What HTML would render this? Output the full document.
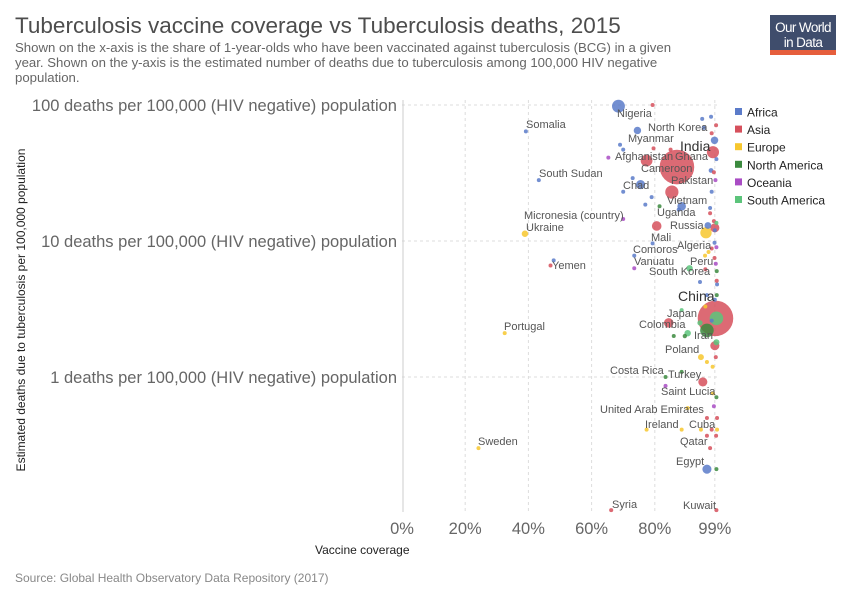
<!DOCTYPE html>
<html><head><meta charset="utf-8">
<style>
body{margin:0;background:#fff;font-family:"Liberation Sans",sans-serif;}
svg text{font-family:"Liberation Sans",sans-serif;}
</style></head>
<body>
<svg id="chart" width="850" height="600" xmlns="http://www.w3.org/2000/svg">
<text x="15" y="33" font-size="22.5" fill="#4d4d4d">Tuberculosis vaccine coverage vs Tuberculosis deaths, 2015</text>
<g font-size="13.2" fill="#666">
<text x="15" y="52">Shown on the x-axis is the share of 1-year-olds who have been vaccinated against tuberculosis (BCG) in a given</text>
<text x="15" y="67">year. Shown on the y-axis is the estimated number of deaths due to tuberculosis among 100,000 HIV negative</text>
<text x="15" y="82">population.</text>
</g>
<g>
<rect x="770" y="15" width="66" height="36" fill="#3f4d6c"/>
<rect x="770" y="50" width="66" height="5" fill="#e65e3c"/>
<text x="803" y="32" font-size="13.5" fill="#fff" text-anchor="middle" letter-spacing="-0.6">Our World</text>
<text x="803" y="47" font-size="13.5" fill="#fff" text-anchor="middle" letter-spacing="-0.6">in Data</text>
</g>
<g id="grid"></g>
<g id="axes"></g>
<g id="points"></g>
<g id="labels" font-size="11" fill="#555"></g>
<text transform="translate(25,310) rotate(-90)" font-size="12" fill="#222" text-anchor="middle">Estimated deaths due to tuberculosis per 100,000 population</text>
<text x="315" y="554" font-size="12" fill="#222">Vaccine coverage</text>
<text x="15" y="582" font-size="12" fill="#888">Source: Global Health Observatory Data Repository (2017)</text>
<g id="legend" font-size="12" fill="#222"></g>
</svg>
<script>
const regions=["Africa","Asia","Europe","North America","Oceania","South America"];
const regionColors=["#5b7bc9","#d6505c","#f7c72e","#3b8a3e","#a94cc4","#5cc47b"];
const xTicks=[0,20,40,60,80,99];
const xTickLabels=["0%","20%","40%","60%","80%","99%"];
const yTicks=[100,10,1];
const yTickLabels=["100 deaths per 100,000 (HIV negative) population","10 deaths per 100,000 (HIV negative) population","1 deaths per 100,000 (HIV negative) population"];
// [name, coverage %, deaths per 100k, region index, population (M)]
const countries=[
["Nigeria",68.5,98,0,180],["Somalia",39.2,64,0,10],["",74.5,65,0,60],["",70,47,0,12],["",69,51,0,10],
["",75.5,26,0,90],["South Sudan",43.3,28,0,10],["",97.8,82,0,10],["",95,79,0,12],["",98.9,55,0,60],["",95.5,68,0,20],
["",97.8,33,0,25],["",73,29,0,10],["",70,23,0,10],["",79,21,0,12],["",77,18.5,0,10],["",88.5,18,0,80],["",97.5,17.5,0,10],
["",87.6,17,0,20],["",99,12,0,10],["",98.9,9.7,0,15],["",96.8,13,0,50],["",79.3,9.6,0,10],["",73.5,7.8,0,4],["",48,7.2,0,4],
["",94.3,5,0,10],["",96.5,4,0,10],["",99,3.7,0,10],["",99.7,4.8,0,10],["",96.5,0.21,0,90],["",98,2.6,0,10],["",99.5,40,0,12],["",98,23,0,10],
["",79.6,48,1,10],["",87,35,1,1300],["",77.4,39,1,150],["",85.4,22.9,1,190],["",98.4,45,1,160],["",98,62,1,10],["",79.3,100,1,3],
["",85,47,1,8],["",80.6,12.9,1,100],["",97.5,16,1,10],["",98.7,14,1,8],["",99,12.5,1,90],["",98,8.8,1,8],["",98.9,7.5,1,10],
["",47,6.6,1,3],["",96,6.2,1,8],["",99.6,5.1,1,8],["",99.2,2.7,1,1370],["",84.4,2.5,1,100],["",99,1.7,1,90],["",99.3,1.4,1,8],
["",95.2,0.92,1,90],["",96.5,0.5,1,5],["",99.7,0.5,1,5],["",96.5,0.37,1,6],["",99.4,0.37,1,6],["",98,0.41,1,10],["",97.5,0.3,1,6],
["",66.2,0.105,1,18],["",99.5,0.105,1,4],["",99.4,71,1,10],["",98.7,32,1,8],
["",38.9,11.3,2,45],["",96.2,11.5,2,140],["",97,8.3,2,10],["",95.9,7.8,2,10],["",94.6,1.4,2,38],["",96.5,1.29,2,10],["",98.3,1.19,2,10],
["",98.4,0.76,2,10],["",32.5,2.1,2,4],["",24.2,0.3,2,4],["",90.4,0.59,2,10],["",77.4,0.41,2,4],["",88.5,0.41,2,4],["",94.6,0.41,2,6],["",99.7,0.41,2,10],["",96,3.3,2,8],
["",81.5,18,3,8],["",99.6,4,3,8],["",89.5,2,3,20],["",96.5,2.2,3,200],["",86,2,3,12],["",83.4,1.0,3,5],["",88.5,1.09,3,8],["",99.5,0.71,3,5],["",99.5,0.21,3,5],["",99.6,6,3,6],
["",65.3,41,4,3],["",70,14.5,4,3],["",73.5,6.3,4,3],["",99.5,9,4,3],["",99.3,6.8,4,3],["",83.4,0.86,4,3],["",98.7,0.61,4,3],["",99.2,28,4,3],
["",99.5,13.6,5,6],["",91,6.3,5,45],["",88.5,3.1,5,12],["",94.3,2.5,5,30],["",99.5,2.7,5,200],["",90.4,2.1,5,45],["",99.5,1.8,5,40]
];
const annotations=[
["Nigeria",617,117],["North Korea",648,131],["Somalia",526,128],["Myanmar",628,142],["India",680,151],["Afghanistan",615,160],["Ghana",675,160],
["Cameroon",641,172],["South Sudan",539,177],["Pakistan",671,184],["Chad",623,189],["Vietnam",667,204],["Uganda",657,216],["Micronesia (country)",524,219],
["Russia",670,229],["Ukraine",526,231],["Mali",651,241],["Algeria",677,249],["Comoros",633,253],["Vanuatu",634,265],["Peru",690,265],["Yemen",552,269],
["South Korea",649,275],["China",678,301],["Japan",667,317],["Colombia",639,328],["Iran",694,339],["Portugal",504,330],["Poland",665,353],
["Costa Rica",610,374],["Turkey",668,378],["Saint Lucia",661,395],["United Arab Emirates",600,413],["Ireland",645,428],["Cuba",689,428],
["Sweden",478,445],["Qatar",680,445],["Egypt",676,465],["Syria",612,508],["Kuwait",683,509]
];
const bigLabels=["India","China"];
const X0=402,X1=718,Y100=105,YDEC=136;
function xs(v){return X0+(X1-X0)*v/100;}
function ys(v){return Y100+(2-Math.log10(v))*YDEC;}
function rs(p){return Math.max(2,Math.sqrt(p)*0.48);}
const NS="http://www.w3.org/2000/svg";
function mk(tag,attrs,parent){const e=document.createElementNS(NS,tag);for(const k in attrs)e.setAttribute(k,attrs[k]);parent.appendChild(e);return e;}
const grid=document.getElementById('grid'),axes=document.getElementById('axes');
yTicks.forEach((t,i)=>{
 const l=mk('line',{x1:X0,x2:X1,y1:ys(t),y2:ys(t),stroke:'#ddd','stroke-dasharray':'3,3'},grid);
 
 
 const tx=mk('text',{x:397,y:ys(t)+6,'font-size':'16.5',fill:'#666','text-anchor':'end'},axes);
 tx.textContent=yTickLabels[i];
 
 
});
xTicks.forEach((t,i)=>{
 if(i>0){const l=mk('line',{x1:xs(t),x2:xs(t),y1:100,y2:512,stroke:'#ddd','stroke-dasharray':'3,3'},grid);
 
 }
 const tx=mk('text',{x:xs(t),y:534,'font-size':'16.5',fill:'#666','text-anchor':'middle'},axes);
 tx.textContent=xTickLabels[i];
 
 
});
const al=mk('line',{x1:X0+1,x2:X0+1,y1:100,y2:512,stroke:'#ccc'},axes);


const pts=document.getElementById('points');
countries.slice().sort((a,b)=>b[4]-a[4]).forEach(c=>{
 const e=mk('circle',{cx:xs(c[1]),cy:ys(c[2]),r:rs(c[4]),fill:regionColors[c[3]],'fill-opacity':0.85},pts);
 
 
});
const lab=document.getElementById('labels');
annotations.forEach(a=>{
 const big=bigLabels.includes(a[0]);
 const t=mk('text',{x:a[1],y:a[2],'font-size':big?14:11,fill:big?'#333':'#555'},lab);
 t.textContent=a[0];
 
 
});
const leg=document.getElementById('legend');
regions.forEach((r,i)=>{
 const y=112+i*17.6;
 const s=mk('rect',{x:735,y:y-4,width:7,height:7,fill:regionColors[i]},leg);
 
 
 const t=mk('text',{x:747,y:y+4.5},leg);
 t.textContent=r;
 
 
});
</script>
</body></html>
